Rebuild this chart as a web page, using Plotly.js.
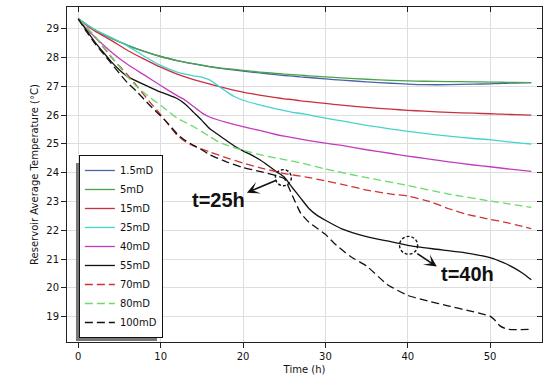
<!DOCTYPE html>
<html>
<head>
<meta charset="utf-8">
<script src="https://cdn.plot.ly/plotly-3.0.1.min.js"></script>
<style>html,body{margin:0;padding:0;background:#fff}#chart{width:550px;height:378px}</style>
</head>
<body>
<div id="chart"></div>
<script>
// ---- data ----
const seriesNames = ["1.5mD","5mD","15mD","25mD","40mD","55mD","70mD","80mD","100mD"];

const t_1p5 = [0,1,2,4,6,8,10,12,14,16,18,20,22,24,25,26,27,28,30,32,35,38,40,42,45,48,50,51,52,53,55];
const T_1p5 = [29.35,29.15,28.97,28.68,28.43,28.22,28.04,27.9,27.78,27.68,27.6,27.53,27.47,27.41,27.38,27.36,27.33,27.31,27.26,27.22,27.16,27.11,27.08,27.06,27.06,27.08,27.09,27.1,27.11,27.12,27.13];

const t_5 = [0,1,2,4,6,8,10,12,14,16,18,20,22,24,25,26,27,28,30,32,35,38,40,42,45,48,50,51,52,53,55];
const T_5 = [29.35,29.15,28.97,28.68,28.43,28.22,28.04,27.9,27.79,27.69,27.62,27.56,27.5,27.45,27.43,27.41,27.39,27.37,27.33,27.3,27.25,27.21,27.19,27.18,27.17,27.16,27.15,27.15,27.14,27.14,27.13];

const t_15 = [0,1,2,4,6,8,10,12,14,16,18,20,22,24,25,26,27,28,30,32,35,38,40,42,45,48,50,51,52,53,55];
const T_15 = [29.35,29.12,28.93,28.6,28.25,27.95,27.67,27.43,27.24,27.08,26.93,26.8,26.7,26.61,26.57,26.54,26.5,26.47,26.41,26.35,26.27,26.21,26.17,26.14,26.1,26.07,26.05,26.04,26.03,26.02,26.0];

const t_25 = [0,1,2,4,6,8,10,12,14,15,16,17,18,19,20,22,24,25,26,27,28,30,32,35,38,40,42,45,48,50,52,55];
const T_25 = [29.35,29.15,28.97,28.7,28.4,28.05,27.73,27.5,27.37,27.32,27.22,27.02,26.82,26.64,26.52,26.36,26.22,26.16,26.1,26.06,26.01,25.9,25.8,25.65,25.52,25.44,25.37,25.27,25.19,25.15,25.08,25.0];

const t_40 = [0,1,2,4,6,8,10,12,13,14,15,16,18,20,22,24,25,26,28,30,32,35,38,40,42,45,48,50,52,55];
const T_40 = [29.35,29.0,28.72,28.2,27.76,27.4,27.03,26.68,26.52,26.3,26.08,25.93,25.75,25.6,25.47,25.33,25.27,25.22,25.12,25.03,24.95,24.8,24.67,24.58,24.5,24.38,24.27,24.21,24.14,24.05];

const t_55 = [0,1,2,3,4,5,6,8,10,11,12,13,14,15,16,17,18,19,20,21,22,23,24,25,26,27,28,29,30,32,35,37.5,40,43,47,50,51,52,53,54,55];
const T_55 = [29.35,28.95,28.55,28.2,27.86,27.57,27.34,27.06,26.8,26.7,26.58,26.38,26.1,25.82,25.52,25.32,25.12,24.92,24.76,24.62,24.46,24.26,24.05,23.85,23.48,23.12,22.76,22.52,22.35,22.05,21.78,21.63,21.48,21.36,21.22,21.05,20.95,20.83,20.68,20.5,20.28];

const t_70 = [0,1,2,3,4,5,6,7,8,9,10,11,12,13,14,16,18,20,22,24,25,27.5,30,32,35,38,40,42,43,45,47,50,52,55];
const T_70 = [29.35,29.05,28.73,28.38,28.02,27.7,27.4,27.05,26.7,26.35,26.02,25.65,25.3,25.08,24.93,24.72,24.52,24.34,24.18,24.04,23.97,23.86,23.72,23.6,23.4,23.26,23.19,23.05,22.97,22.75,22.57,22.38,22.27,22.06];

const t_80 = [0,1,2,3,4,5,6,7,8,9,10,11,12,13,14,15,16,17,18,20,22.5,25,27.5,30,35,40,45,50,55];
const T_80 = [29.35,29.05,28.75,28.4,28.05,27.68,27.33,27.02,26.77,26.55,26.35,26.12,25.9,25.75,25.6,25.43,25.25,25.08,24.96,24.78,24.6,24.46,24.31,24.13,23.83,23.56,23.26,23.02,22.8];

const t_100 = [0,1,2,3,4,5,6,7,8,9,10,11,12,13,14,15,16,18,20,22,24,25,26,27,28,29,30,31,33,35,37.5,40,42.5,45,47.5,49,50,50.5,51.2,52,53,55];
const T_100 = [29.35,28.9,28.5,28.15,27.8,27.45,27.12,26.85,26.55,26.25,25.98,25.68,25.35,25.12,24.95,24.8,24.62,24.38,24.18,24.05,23.9,23.8,23.2,22.6,22.28,22.07,21.86,21.57,21.1,20.76,20.12,19.74,19.54,19.37,19.2,19.1,19.02,18.9,18.68,18.57,18.55,18.56];

const xTicks = [0,10,20,30,40,50];
const yTicks = [19,20,21,22,23,24,25,26,27,28,29];

// ---- styling ----
const colors = ["#4a64a6","#4aa34a","#c8303e","#44d4cc","#c23cc0","#111111","#cc3535","#66dd66","#111111"];
const dashes = ["solid","solid","solid","solid","solid","solid","8px,4px","8px,4px","8px,4px"];
const xs = [t_1p5,t_5,t_15,t_25,t_40,t_55,t_70,t_80,t_100];
const ys = [T_1p5,T_5,T_15,T_25,T_40,T_55,T_70,T_80,T_100];

const traces = seriesNames.map((n,i)=>({
  x: xs[i], y: ys[i], name: n, type: "scatter", mode: "lines",
  line: {color: colors[i], width: 1.3, dash: dashes[i], shape: "spline", smoothing: 0.5}
}));
// empty trace to carry the mirrored (inside) tick axes on top / right
traces.push({x: [], y: [], xaxis: "x2", yaxis: "y2", showlegend: false, hoverinfo: "skip", type: "scatter"});

const XR = [-1.37, 56.3], YR = [18.12, 29.76];
const font = {family: "DejaVu Sans, sans-serif", size: 10, color: "#111"};

const layout = {
  width: 550, height: 378,
  margin: {l: 67, r: 8, t: 7, b: 36},
  paper_bgcolor: "#fff", plot_bgcolor: "#fff",
  font: font,
  showlegend: true,
  xaxis: {range: XR, tickvals: xTicks, ticks: "outside", ticklen: 5, tickcolor: "#222",
          showline: true, linecolor: "#222", linewidth: 1, mirror: true,
          showgrid: true, gridcolor: "#dedede", gridwidth: 1, zeroline: false,
          tickfont: font, title: {text: "Time (h)", font: font, standoff: 4}},
  yaxis: {range: YR, tickvals: yTicks, ticks: "outside", ticklen: 5, tickcolor: "#222",
          showline: true, linecolor: "#222", linewidth: 1, mirror: true,
          showgrid: true, gridcolor: "#dedede", gridwidth: 1, zeroline: false,
          tickfont: font, title: {text: "Reservoir Average Temperature (°C)", font: font, standoff: 5}},
  xaxis2: {overlaying: "x", side: "top", range: XR, tickvals: xTicks, ticks: "inside", ticklen: 5,
           tickcolor: "#222", showticklabels: false, showgrid: false, zeroline: false, showline: false},
  yaxis2: {overlaying: "y", side: "right", range: YR, tickvals: yTicks, ticks: "inside", ticklen: 5,
           tickcolor: "#222", showticklabels: false, showgrid: false, zeroline: false, showline: false},
  legend: {x: 0.025, y: 0.012, xanchor: "left", yanchor: "bottom", bgcolor: "#fff",
           bordercolor: "#111", borderwidth: 1, font: font, itemwidth: 30, tracegroupgap: 0},
  shapes: [
    // legend drop shadow
    {type: "rect", xref: "paper", yref: "paper", x0: 0.0189, x1: 0.1895, y0: 0.003, y1: 0.534,
     fillcolor: "#777", line: {width: 0}, layer: "above"},
    {type: "circle", xref: "x", yref: "y", x0: 23.93, x1: 25.87, y0: 23.55, y1: 24.11,
     line: {color: "#111", width: 1.4, dash: "3px,2px"}},
    {type: "circle", xref: "x", yref: "y", x0: 39.0, x1: 41.2, y0: 21.17, y1: 21.79,
     line: {color: "#111", width: 1.4, dash: "3px,2px"}}
  ],
  annotations: [
    {x: 17.0, y: 23.07, xref: "x", yref: "y", text: "<b>t=25h</b>", showarrow: false,
     font: {family: "Liberation Sans, Arial, sans-serif", size: 20, color: "#111"}},
    {x: 20.47, y: 23.31, xref: "x", yref: "y", text: "", showarrow: true, ax: 31, ay: -13,
     arrowhead: 3, arrowsize: 1.3, arrowwidth: 1.6, arrowcolor: "#111"},
    {x: 47.2, y: 20.47, xref: "x", yref: "y", text: "<b>t=40h</b>", showarrow: false,
     font: {family: "Liberation Sans, Arial, sans-serif", size: 20, color: "#111"}},
    {x: 43.53, y: 20.74, xref: "x", yref: "y", text: "", showarrow: true, ax: -21, ay: -14,
     arrowhead: 3, arrowsize: 1.3, arrowwidth: 1.6, arrowcolor: "#111"}
  ]
};

Plotly.newPlot("chart", traces, layout, {displayModeBar: false, staticPlot: true});
</script>
</body>
</html>
